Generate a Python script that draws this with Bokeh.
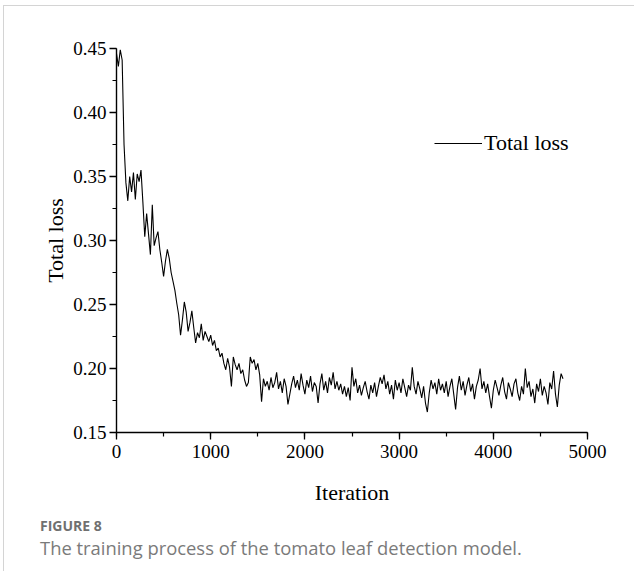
import numpy as np
from bokeh.plotting import figure
from bokeh.layouts import column
from bokeh.models import (Range1d, SingleIntervalTicker, NumeralTickFormatter,
                          Legend, LegendItem, Div, ColumnDataSource)
from bokeh.embed import file_html
from bokeh.resources import INLINE

# ---- data, one value every 20 iterations ----
iteration_step = 20
total_loss = [
    0.446, 0.436, 0.449, 0.441, 0.375, 0.345, 0.331, 0.350, 0.338, 0.353,
    0.332, 0.352, 0.346, 0.355, 0.330, 0.303, 0.321, 0.305, 0.289, 0.328,
    0.296, 0.302, 0.307, 0.293, 0.283, 0.272, 0.284, 0.293, 0.286, 0.275,
    0.268, 0.261, 0.251, 0.242, 0.226, 0.238, 0.252, 0.244, 0.229, 0.236,
    0.245, 0.232, 0.220, 0.228, 0.224, 0.235, 0.222, 0.229, 0.225, 0.221,
    0.226, 0.218, 0.222, 0.214, 0.216, 0.209, 0.212, 0.204, 0.199, 0.208,
    0.201, 0.186, 0.209, 0.203, 0.199, 0.204, 0.196, 0.199, 0.191, 0.186,
    0.189, 0.209, 0.204, 0.207, 0.199, 0.204, 0.195, 0.174, 0.192, 0.186,
    0.190, 0.183, 0.193, 0.185, 0.189, 0.197, 0.184, 0.190, 0.181, 0.192,
    0.186, 0.172, 0.180, 0.188, 0.194, 0.185, 0.191, 0.183, 0.196, 0.187,
    0.180, 0.191, 0.185, 0.194, 0.182, 0.189, 0.186, 0.173, 0.188, 0.196,
    0.183, 0.190, 0.181, 0.193, 0.187, 0.197, 0.184, 0.190, 0.183, 0.188,
    0.180, 0.186, 0.178, 0.185, 0.175, 0.201, 0.186, 0.192, 0.181, 0.187,
    0.179, 0.185, 0.190, 0.182, 0.176, 0.187, 0.181, 0.189, 0.178, 0.186,
    0.193, 0.188, 0.195, 0.184, 0.190, 0.180, 0.187, 0.176, 0.191, 0.183,
    0.189, 0.181, 0.192, 0.185, 0.178, 0.187, 0.183, 0.201, 0.186, 0.180,
    0.190, 0.184, 0.177, 0.186, 0.173, 0.166, 0.181, 0.191, 0.184, 0.189,
    0.180, 0.192, 0.183, 0.188, 0.181, 0.190, 0.178, 0.186, 0.192, 0.180,
    0.168, 0.185, 0.194, 0.183, 0.190, 0.179, 0.187, 0.193, 0.182, 0.188,
    0.176, 0.186, 0.191, 0.200, 0.184, 0.190, 0.181, 0.188, 0.178, 0.169,
    0.183, 0.191, 0.185, 0.179, 0.187, 0.193, 0.182, 0.176, 0.189, 0.184,
    0.178, 0.188, 0.192, 0.181, 0.175, 0.186, 0.180, 0.200, 0.185, 0.190,
    0.178, 0.184, 0.173, 0.188, 0.182, 0.192, 0.179, 0.186, 0.181, 0.172,
    0.189, 0.184, 0.198, 0.180, 0.170, 0.187, 0.196, 0.192,
]
iterations = list(np.arange(len(total_loss)) * iteration_step)

x_ticks_interval = 1000
y_ticks_interval = 0.05
x_title = "Iteration"
y_title = "Total loss"
series_name = "Total loss"
caption_head = "FIGURE 8"
caption_text = "The training process of the tomato leaf detection model."

SERIF = "Liberation Serif"

p = figure(width=624, height=503, output_backend="svg", toolbar_location=None,
           x_range=Range1d(0, 5000), y_range=Range1d(0.15, 0.45),
           min_border_left=112, min_border_right=41, min_border_top=42,
           min_border_bottom=77)
p.outline_line_color = None
p.grid.visible = False
p.background_fill_color = "white"
p.border_fill_color = "white"

src = ColumnDataSource(dict(x=iterations, y=total_loss))
r = p.line("x", "y", source=src, line_color="black", line_width=1.1)

for ax in (p.xaxis[0], p.yaxis[0]):
    ax.axis_line_color = "black"
    ax.axis_line_width = 1.4
    ax.major_tick_line_color = "black"
    ax.major_tick_line_width = 1.3
    ax.minor_tick_line_color = "black"
    ax.minor_tick_line_width = 1.2
    ax.major_tick_in = 0
    ax.major_tick_out = 7
    ax.minor_tick_in = 0
    ax.minor_tick_out = 4
    ax.major_label_text_font = SERIF
    ax.major_label_text_font_size = "19px"
    ax.major_label_text_color = "black"
    ax.axis_label_text_font = SERIF
    ax.axis_label_text_font_size = "22px"
    ax.axis_label_text_font_style = "normal"
    ax.axis_label_text_color = "black"

p.xaxis.ticker = SingleIntervalTicker(interval=x_ticks_interval, num_minor_ticks=2)
p.yaxis.ticker = SingleIntervalTicker(interval=y_ticks_interval, num_minor_ticks=2)
p.yaxis.formatter = NumeralTickFormatter(format="0.00")
p.xaxis.axis_label = x_title
p.yaxis.axis_label = y_title
p.xaxis.major_label_standoff = 5
p.yaxis.major_label_standoff = 3
p.xaxis.axis_label_standoff = 19
p.yaxis.axis_label_standoff = 2

legend = Legend(items=[LegendItem(label=series_name, renderers=[r])],
                location=(318, 276), padding=0, margin=0, spacing=0,
                glyph_width=48, glyph_height=20, label_standoff=2,
                border_line_alpha=0, background_fill_alpha=0,
                label_text_font=SERIF, label_text_font_size="22px",
                label_text_color="black")
p.add_layout(legend, "center")

caption_html = (
    '<div style="padding-left:31px;padding-top:2px;font-family:\'Open Sans\';">'
    '<div style="font-size:14px;line-height:19px;font-weight:bold;color:#707070;">'
    + caption_head + '</div>'
    '<div style="font-size:18.4px;line-height:25px;color:#7a7a7a;white-space:nowrap;">'
    + caption_text + '</div></div>'
)
caption = Div(text=caption_html, width=620, height=52)

layout = column(p, caption, spacing=0, margin=(5, 0, 0, 3),
                styles={"border-left": "1px solid #d4d4d4",
                        "border-top": "1px solid #d4d4d4"})

open("out.html", "w").write(file_html(layout, INLINE))
